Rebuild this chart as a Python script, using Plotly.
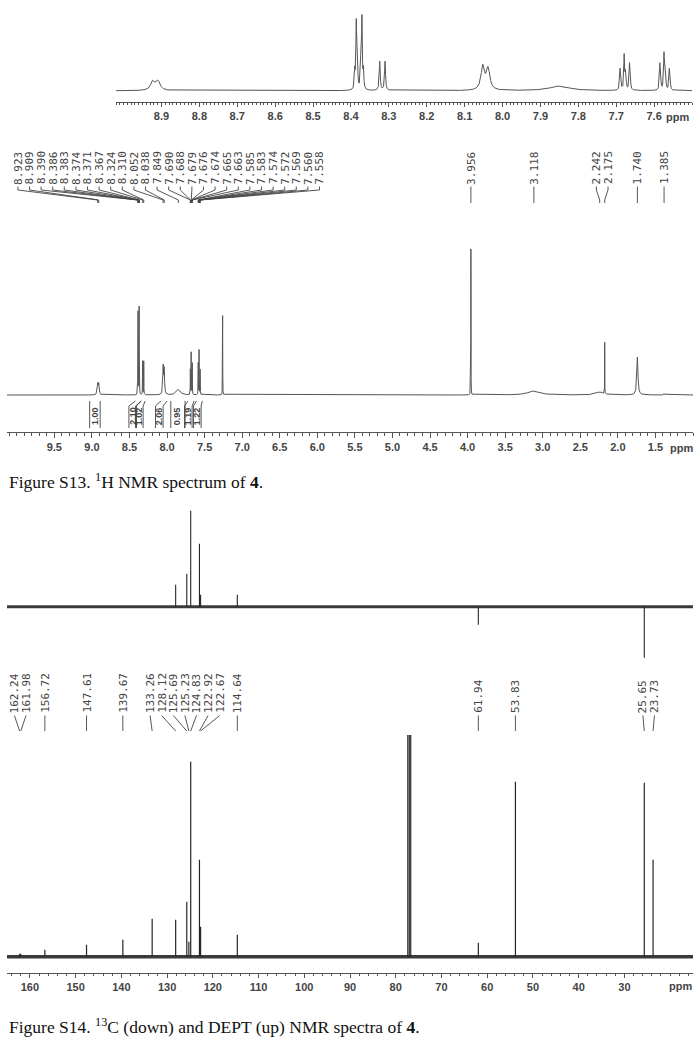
import numpy as np
import plotly.graph_objects as go

W, H = 698, 1054

# ---------------- data ----------------
# 1H signals: shift (ppm), intensity (arb.), half width (ppm)
h1_shift = [8.923, 8.909, 8.390, 8.386, 8.383, 8.374, 8.371, 8.367, 8.324, 8.310,
            8.052, 8.038, 7.849, 7.690, 7.688, 7.679, 7.676, 7.674, 7.665, 7.663,
            7.585, 7.583, 7.574, 7.572, 7.569, 7.560, 7.558,
            3.956, 3.118, 2.242, 2.175, 1.740, 1.385]
h1_height = [9.0, 9.0, 18, 66, 28, 28, 70, 18, 29, 29,
             23.5, 21, 4.7, 19, 10, 34, 14, 8, 24, 12,
             24, 12, 34, 14, 8, 19, 10,
             126, 3.5, 2.5, 44.6, 32.5, 1.2]
h1_hwhm = [0.0065, 0.0065, 0.0012, 0.0012, 0.0012, 0.0012, 0.0012, 0.0012, 0.0015, 0.0015,
           0.0055, 0.0055, 0.03, 0.0012, 0.0012, 0.0012, 0.0012, 0.0012, 0.0012, 0.0012,
           0.0012, 0.0012, 0.0012, 0.0012, 0.0012, 0.0012, 0.0012,
           0.0012, 0.09, 0.06, 0.0010, 0.009, 0.005]
# residual CHCl3 (unlabelled)
solv_h1_shift = [7.260]
solv_h1_height = [68.5]
solv_h1_hwhm = [0.0012]

# 1H integrals
int_values = ["1.00", "2.10", "1.02", "2.06", "0.95", "1.19", "1.22"]
int_from = [9.03, 8.42, 8.34, 8.08, 7.95, 7.72, 7.61]
int_to = [8.89, 8.35, 8.29, 8.00, 7.76, 7.64, 7.53]
int_label_at = [8.959, 8.457, 8.369, 8.103, 7.863, 7.717, 7.597]

# 13C signals
c13_shift = [162.24, 161.98, 156.72, 147.61, 139.67, 133.26, 128.12, 125.69, 125.23,
             124.83, 122.92, 122.67, 114.64, 61.94, 53.83, 25.65, 23.73]
c13_height = [3, 3, 7, 12, 17, 38, 37, 55, 15, 195, 97, 30, 22, 14, 175, 174, 97]
cdcl3_shift = [77.36, 77.04, 76.72]
cdcl3_height = [226, 226, 226]

# DEPT signals (up = CH/CH3, down = CH2)
dept_shift = [128.12, 125.69, 124.83, 122.92, 122.67, 114.64, 61.94, 25.65]
dept_height = [22, 33, 96, 63, 12, 12, -18, -51]

# tick labels
inset_ticks = [8.9, 8.8, 8.7, 8.6, 8.5, 8.4, 8.3, 8.2, 8.1, 8.0, 7.9, 7.8, 7.7, 7.6]
h1_ticks = [9.5, 9.0, 8.5, 8.0, 7.5, 7.0, 6.5, 6.0, 5.5, 5.0, 4.5, 4.0, 3.5, 3.0, 2.5, 2.0, 1.5]
c13_ticks = [160, 150, 140, 130, 120, 110, 100, 90, 80, 70, 60, 50, 40, 30]

# ---------------- layout geometry (pixels) ----------------
INS_R, INS_D = [9.02, 7.50], [116, 692]
INS_Y = [5, 101.7]
H1_R, H1_D = [10.13, 1.0], [7, 693]
H1_Y = [215, 432.3]
H1_SCALE = 1.167  # px per unit
C_R, C_D = [165, 15], [7, 693]
DEPT_Y = [500, 665]
DEPT_BASE = 606.7
C_Y = [735, 972.7]
C_BASE = 956.7
INS_BASE = 90.7
H1_BASE = 395

LINE_H1 = "#555555"
LINE_C = "#262626"
TXT = "#444444"


def py(y):
    return 1 - y / H


def px2ppm(px, rng, dom):
    return rng[0] - (px - dom[0]) / (dom[1] - dom[0]) * (rng[0] - rng[1])


def ppm2px(p, rng, dom):
    return dom[0] + (rng[0] - p) / (rng[0] - rng[1]) * (dom[1] - dom[0])


def lorentz(grid, shifts, heights, widths):
    y = np.zeros_like(grid)
    for s, h, w in zip(shifts, heights, widths):
        y += h / (1 + ((grid - s) / w) ** 2)
    return y


def spread(pxs, gap):
    order = sorted(range(len(pxs)), key=lambda i: pxs[i])
    clusters = [[i] for i in order]
    changed = True
    while changed:
        changed = False
        starts = [np.mean([pxs[i] for i in c]) - (len(c) - 1) * gap / 2 for c in clusters]
        for k in range(len(clusters) - 1):
            end_k = starts[k] + (len(clusters[k]) - 1) * gap
            if starts[k + 1] < end_k + gap:
                clusters[k] = clusters[k] + clusters[k + 1]
                del clusters[k + 1]
                changed = True
                break
    out = [0] * len(pxs)
    for c in clusters:
        st = np.mean([pxs[i] for i in c]) - (len(c) - 1) * gap / 2
        for j, i in enumerate(c):
            out[i] = st + j * gap
    return out


fig = go.Figure()

# ---- 1H spectra ----
all_s = h1_shift + solv_h1_shift
all_h = h1_height + solv_h1_height
all_w = h1_hwhm + solv_h1_hwhm

g_ins = np.arange(INS_R[1], INS_R[0], 0.0001)
fig.add_trace(go.Scatter(x=g_ins, y=lorentz(g_ins, all_s, all_h, all_w), mode="lines",
                         line=dict(color=LINE_H1, width=1), xaxis="x", yaxis="y",
                         hoverinfo="skip"))
g_h1 = np.arange(H1_R[1], H1_R[0], 0.0003)
fig.add_trace(go.Scatter(x=g_h1, y=lorentz(g_h1, all_s, all_h, all_w), mode="lines",
                         line=dict(color=LINE_H1, width=1), xaxis="x2", yaxis="y2",
                         hoverinfo="skip"))


def sticks(shifts, heights):
    xs, ys = [], []
    for s, h in zip(shifts, heights):
        xs += [s, s, None]
        ys += [0, h, None]
    return xs, ys


# ---- DEPT ----
fig.add_trace(go.Scatter(x=[C_R[0], C_R[1]], y=[0, 0], mode="lines",
                         line=dict(color="#3a3a3a", width=3), xaxis="x3", yaxis="y3",
                         hoverinfo="skip"))
dx, dy = sticks(dept_shift, dept_height)
fig.add_trace(go.Scatter(x=dx, y=dy, mode="lines", line=dict(color=LINE_C, width=1.1),
                         xaxis="x3", yaxis="y3", hoverinfo="skip"))

# ---- 13C ----
fig.add_trace(go.Scatter(x=[C_R[0], C_R[1]], y=[0, 0], mode="lines",
                         line=dict(color="#3a3a3a", width=3.5), xaxis="x4", yaxis="y4",
                         hoverinfo="skip"))
cx, cy = sticks(c13_shift + cdcl3_shift, c13_height + cdcl3_height)
fig.add_trace(go.Scatter(x=cx, y=cy, mode="lines", line=dict(color=LINE_C, width=1.2),
                         xaxis="x4", yaxis="y4", hoverinfo="skip"))

annotations = []
shapes = []

# ---- 1H peak labels ----
lab_font = dict(family="DejaVu Sans Mono", size=11, color=TXT)
peak_px = [ppm2px(s, H1_R, H1_D) for s in h1_shift]
lab_px = spread(peak_px, 11.6)
for s, ppx, lpx in zip(h1_shift, peak_px, lab_px):
    lp = px2ppm(lpx, H1_R, H1_D)
    annotations.append(dict(x=lp, xref="x2", y=py(185.5), yref="paper", text="%.3f" % s,
                            textangle=-90, showarrow=False, xanchor="center", yanchor="bottom",
                            font=lab_font, borderpad=0))
    shapes.append(dict(type="path", xref="x2", yref="paper",
                       path="M %f,%f L %f,%f L %f,%f L %f,%f" % (lp, py(186.5), lp, py(190),
                                                                 s, py(200), s, py(203)),
                       line=dict(color=TXT, width=0.9)))

# ---- 13C peak labels ----
cpk_px = [ppm2px(s, C_R, C_D) for s in c13_shift]
clab_px = spread(cpk_px, 11.6)
for s, ppx, lpx in zip(c13_shift, cpk_px, clab_px):
    lp = px2ppm(lpx, C_R, C_D)
    annotations.append(dict(x=lp, xref="x4", y=py(714), yref="paper", text="%.2f" % s,
                            textangle=-90, showarrow=False, xanchor="center", yanchor="bottom",
                            font=lab_font, borderpad=0))
    shapes.append(dict(type="path", xref="x4", yref="paper",
                       path="M %f,%f L %f,%f" % (lp, py(715.5), s, py(731)),
                       line=dict(color=TXT, width=0.9)))

# ---- integrals ----
hw = px2ppm(0, H1_R, H1_D) - px2ppm(3.8, H1_R, H1_D)
for v, a, b, lab in zip(int_values, int_from, int_to, int_label_at):
    l_in = lab + hw
    r_in = lab - hw
    if a - b > 2 * hw:
        l_in, r_in = a, b
    shapes.append(dict(type="path", xref="x2", yref="paper",
                       path="M %f,%f L %f,%f L %f,%f" % (l_in, py(428), l_in, py(406), a, py(401)),
                       line=dict(color=TXT, width=0.9)))
    shapes.append(dict(type="path", xref="x2", yref="paper",
                       path="M %f,%f L %f,%f L %f,%f" % (r_in, py(428), r_in, py(406), b, py(401)),
                       line=dict(color=TXT, width=0.9)))
    annotations.append(dict(x=lab, xref="x2", y=py(416), yref="paper", text="<b>%s</b>" % v,
                            textangle=-90, showarrow=False, xanchor="center", yanchor="middle",
                            font=dict(family="Liberation Sans", size=9, color=TXT), borderpad=0))

# ---- ppm unit labels ----
for xpx, ypx in [(677, 116.5), (681.5, 448), (680.5, 986)]:
    annotations.append(dict(x=xpx / W, xref="paper", y=py(ypx), yref="paper", text="<b>ppm</b>",
                            showarrow=False, xanchor="center", yanchor="middle",
                            font=dict(family="Liberation Sans", size=11, color=TXT)))

# ---- captions ----
cap_font = dict(family="Liberation Serif", size=17.5, color="#111111")
annotations.append(dict(x=7 / W, xref="paper", y=py(481), yref="paper",
                        text="Figure S13. <sup>1</sup>H NMR spectrum of <b>4</b>.",
                        showarrow=False, xanchor="left", yanchor="middle", font=cap_font))
annotations.append(dict(x=7 / W, xref="paper", y=py(1026), yref="paper",
                        text="Figure S14. <sup>13</sup>C (down) and DEPT (up) NMR spectra of <b>4</b>.",
                        showarrow=False, xanchor="left", yanchor="middle", font=cap_font))


def xax(rng, dom, anchor, ticks=None, minor=None, show=True):
    d = dict(range=rng, domain=[dom[0] / W, dom[1] / W], anchor=anchor, showgrid=False,
             zeroline=False, fixedrange=True)
    if not show:
        d.update(visible=False)
        return d
    d.update(showline=True, linecolor=LINE_H1, linewidth=1, ticks="outside", ticklen=4.5,
             tickwidth=1, tickcolor=LINE_H1, tickmode="array", tickvals=ticks,
             ticktext=["<b>%s</b>" % t for t in ticks],
             tickfont=dict(family="Liberation Sans", size=11, color=TXT),
             minor=dict(dtick=minor, tick0=0, ticks="outside", ticklen=2.5, tickcolor=LINE_H1,
                        showgrid=False))
    return d


def yax(ylo_px, yhi_px, base_px, scale, anchor):
    bottom = -(yhi_px - base_px) / scale
    top = (base_px - ylo_px) / scale
    return dict(domain=[py(yhi_px), py(ylo_px)], range=[bottom, top], visible=False,
                anchor=anchor, fixedrange=True)


ins_lbl = ["%.1f" % t for t in inset_ticks]
h1_lbl = ["%.1f" % t for t in h1_ticks]
c_lbl = ["%d" % t for t in c13_ticks]

xa1 = xax(INS_R, INS_D, "y", inset_ticks, 0.01)
xa1["ticktext"] = ["<b>%s</b>" % t for t in ins_lbl]
xa2 = xax(H1_R, H1_D, "y2", h1_ticks, 0.1)
xa2["ticktext"] = ["<b>%s</b>" % t for t in h1_lbl]
xa4 = xax(C_R, C_D, "y4", c13_ticks, 2)
xa4["ticktext"] = ["<b>%s</b>" % t for t in c_lbl]

fig.update_layout(
    width=W, height=H, margin=dict(l=0, r=0, t=0, b=0),
    paper_bgcolor="white", plot_bgcolor="white", showlegend=False,
    xaxis=xa1,
    yaxis=yax(INS_Y[0], INS_Y[1], INS_BASE, 1.0, "x"),
    xaxis2=xa2,
    yaxis2=yax(H1_Y[0], H1_Y[1], H1_BASE, H1_SCALE, "x2"),
    xaxis3=xax(C_R, C_D, "y3", show=False),
    yaxis3=yax(DEPT_Y[0], DEPT_Y[1], DEPT_BASE, 1.0, "x3"),
    xaxis4=xa4,
    yaxis4=yax(C_Y[0], C_Y[1], C_BASE, 1.0, "x4"),
    annotations=annotations,
    shapes=shapes,
)

fig.write_html("out.html")
